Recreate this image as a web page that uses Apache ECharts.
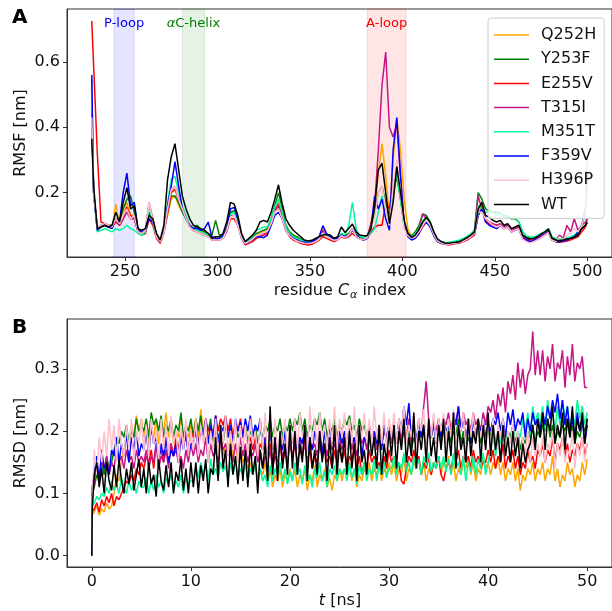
<!DOCTYPE html>
<html><head><meta charset="utf-8">
<script src="https://cdn.jsdelivr.net/npm/echarts@6/dist/echarts.min.js"></script>
<style>html,body{margin:0;padding:0;background:#fff}#c{width:612px;height:611px}</style>
</head><body><div id="c"></div>
<script>
const seriesNames = ['Q252H','Y253F','E255V','T315I','M351T','F359V','H396P','WT'];
const seriesColors = ['#FFA500','#008000','#FF0000','#C71585','#00FA9A','#0000FF','#FFC0CB','#000000'];

const residues = [232,233,235,237,239,241,243,245,247,249,
251,253,255,257,259,261,263,265,267,269,
271,273,275,277,279,281,283,285,287,289,
291,293,295,297,299,301,303,305,307,309,
311,313,315,317,319,321,323,325,327,329,
331,333,335,337,339,341,343,345,347,349,
351,353,355,357,359,361,363,365,367,369,
371,373,375,377,379,381,383,385,387,389,
391,393,395,397,399,401,403,405,407,409,
411,413,415,417,419,421,423,425,427,429,
431,433,435,437,439,441,443,445,447,449,
451,453,455,457,459,461,463,465,467,469,
471,473,475,477,479,481,483,485,487,489,
491,493,495,497,499,500];

const rmsfQ252H = [0.46,0.2,0.085,0.095,0.10,0.095,0.09,0.165,0.10,0.13,
0.17,0.13,0.13,0.085,0.075,0.08,0.135,0.11,0.07,0.05,
0.08,0.13,0.18,0.19,0.16,0.14,0.12,0.10,0.085,0.08,
0.08,0.075,0.07,0.06,0.06,0.06,0.065,0.09,0.14,0.14,
0.11,0.065,0.045,0.05,0.06,0.07,0.075,0.08,0.085,0.11,
0.15,0.17,0.13,0.09,0.075,0.065,0.06,0.055,0.05,0.048,
0.05,0.055,0.065,0.09,0.07,0.065,0.058,0.06,0.07,0.065,
0.07,0.09,0.07,0.062,0.06,0.065,0.11,0.14,0.26,0.35,
0.25,0.13,0.3,0.43,0.33,0.18,0.09,0.065,0.068,0.085,
0.1,0.12,0.105,0.075,0.055,0.048,0.044,0.043,0.045,0.046,
0.048,0.052,0.058,0.066,0.075,0.14,0.16,0.12,0.11,0.1,
0.1,0.105,0.095,0.1,0.085,0.09,0.095,0.065,0.058,0.054,
0.056,0.06,0.068,0.075,0.08,0.055,0.05,0.05,0.052,0.055,
0.06,0.065,0.075,0.09,0.1,0.12];
const rmsfY253F = [0.42,0.2,0.09,0.1,0.105,0.1,0.1,0.12,0.11,0.15,
0.18,0.19,0.14,0.085,0.08,0.085,0.14,0.11,0.07,0.055,
0.08,0.14,0.19,0.19,0.17,0.14,0.12,0.10,0.09,0.10,
0.085,0.08,0.075,0.07,0.115,0.07,0.07,0.095,0.14,0.145,
0.12,0.065,0.05,0.055,0.065,0.075,0.08,0.085,0.09,0.12,
0.16,0.20,0.15,0.10,0.08,0.07,0.065,0.058,0.052,0.05,
0.052,0.056,0.062,0.075,0.07,0.068,0.06,0.062,0.072,0.068,
0.075,0.09,0.072,0.065,0.062,0.065,0.1,0.14,0.2,0.22,
0.17,0.12,0.2,0.25,0.18,0.1,0.075,0.068,0.08,0.1,
0.135,0.13,0.11,0.08,0.058,0.05,0.047,0.046,0.048,0.05,
0.052,0.058,0.065,0.072,0.085,0.2,0.18,0.15,0.145,0.14,
0.14,0.135,0.13,0.125,0.12,0.12,0.11,0.08,0.066,0.062,
0.062,0.065,0.072,0.078,0.09,0.062,0.058,0.055,0.058,0.06,
0.062,0.066,0.075,0.09,0.1,0.12];
const rmsfE255V = [0.725,0.59,0.32,0.11,0.105,0.1,0.095,0.11,0.10,0.12,
0.155,0.13,0.12,0.08,0.07,0.075,0.12,0.10,0.06,0.045,
0.075,0.14,0.2,0.21,0.18,0.15,0.12,0.095,0.085,0.08,
0.075,0.07,0.065,0.055,0.055,0.055,0.06,0.08,0.12,0.12,
0.10,0.06,0.04,0.045,0.05,0.06,0.065,0.07,0.075,0.1,
0.14,0.16,0.12,0.085,0.065,0.055,0.05,0.045,0.042,0.04,
0.042,0.048,0.055,0.065,0.06,0.055,0.05,0.055,0.065,0.06,
0.065,0.075,0.065,0.058,0.055,0.06,0.08,0.095,0.10,0.10,
0.17,0.15,0.22,0.27,0.2,0.1,0.07,0.06,0.062,0.075,
0.095,0.11,0.1,0.07,0.05,0.044,0.042,0.04,0.042,0.044,
0.046,0.05,0.055,0.062,0.07,0.13,0.15,0.115,0.105,0.1,
0.095,0.1,0.09,0.095,0.08,0.085,0.09,0.06,0.055,0.05,
0.052,0.056,0.062,0.07,0.078,0.055,0.05,0.048,0.05,0.052,
0.055,0.06,0.065,0.08,0.095,0.11];
const rmsfT315I = [0.44,0.2,0.09,0.1,0.1,0.095,0.095,0.12,0.10,0.12,
0.14,0.12,0.12,0.08,0.075,0.085,0.17,0.12,0.07,0.05,
0.08,0.15,0.21,0.22,0.18,0.15,0.12,0.10,0.085,0.08,
0.075,0.07,0.065,0.055,0.055,0.055,0.062,0.085,0.13,0.13,
0.105,0.062,0.043,0.048,0.055,0.065,0.07,0.075,0.08,0.105,
0.145,0.165,0.125,0.088,0.07,0.06,0.055,0.05,0.047,0.045,
0.047,0.052,0.06,0.085,0.068,0.06,0.055,0.058,0.068,0.062,
0.068,0.09,0.068,0.06,0.058,0.065,0.1,0.16,0.33,0.53,
0.63,0.4,0.37,0.41,0.25,0.1,0.075,0.065,0.07,0.09,
0.135,0.12,0.1,0.075,0.055,0.047,0.044,0.043,0.045,0.047,
0.05,0.054,0.06,0.068,0.08,0.19,0.15,0.12,0.11,0.105,
0.1,0.105,0.095,0.1,0.088,0.09,0.095,0.065,0.058,0.055,
0.058,0.062,0.07,0.075,0.085,0.06,0.055,0.07,0.06,0.1,
0.08,0.12,0.085,0.1,0.11,0.12];
const rmsfM351T = [0.545,0.2,0.08,0.085,0.09,0.085,0.08,0.09,0.085,0.09,
0.1,0.09,0.085,0.075,0.07,0.08,0.16,0.11,0.065,0.05,
0.08,0.17,0.24,0.25,0.2,0.16,0.13,0.10,0.09,0.085,
0.08,0.075,0.07,0.06,0.06,0.058,0.065,0.09,0.135,0.14,
0.11,0.065,0.048,0.055,0.065,0.085,0.09,0.095,0.095,0.12,
0.155,0.18,0.14,0.095,0.075,0.065,0.06,0.055,0.05,0.048,
0.05,0.055,0.062,0.075,0.07,0.065,0.06,0.062,0.075,0.07,
0.1,0.17,0.09,0.065,0.062,0.065,0.075,0.09,0.14,0.19,
0.15,0.11,0.2,0.26,0.18,0.09,0.07,0.065,0.075,0.09,
0.115,0.12,0.105,0.078,0.058,0.05,0.047,0.048,0.05,0.052,
0.055,0.06,0.066,0.074,0.085,0.16,0.15,0.14,0.145,0.14,
0.13,0.14,0.125,0.13,0.12,0.125,0.11,0.08,0.068,0.064,
0.064,0.068,0.075,0.08,0.09,0.065,0.06,0.058,0.06,0.062,
0.065,0.07,0.08,0.1,0.13,0.3];
const rmsfF359V = [0.56,0.2,0.085,0.095,0.1,0.095,0.09,0.12,0.11,0.2,
0.26,0.16,0.17,0.09,0.078,0.085,0.12,0.11,0.07,0.05,
0.08,0.16,0.22,0.295,0.22,0.15,0.12,0.10,0.09,0.09,
0.085,0.09,0.11,0.065,0.06,0.06,0.068,0.09,0.15,0.155,
0.12,0.06,0.045,0.05,0.058,0.065,0.065,0.062,0.07,0.1,
0.13,0.14,0.12,0.085,0.07,0.06,0.055,0.05,0.048,0.046,
0.05,0.055,0.065,0.099,0.075,0.065,0.058,0.06,0.07,0.065,
0.07,0.085,0.07,0.06,0.055,0.06,0.09,0.19,0.15,0.18,
0.12,0.085,0.33,0.43,0.25,0.1,0.065,0.055,0.06,0.075,
0.1,0.11,0.095,0.068,0.05,0.045,0.043,0.042,0.044,0.046,
0.048,0.052,0.058,0.065,0.075,0.13,0.15,0.11,0.1,0.095,
0.09,0.1,0.09,0.095,0.08,0.085,0.09,0.06,0.055,0.05,
0.054,0.058,0.065,0.072,0.08,0.055,0.05,0.05,0.052,0.055,
0.06,0.065,0.08,0.1,0.15,0.26];
const rmsfH396P = [0.43,0.2,0.09,0.1,0.105,0.1,0.095,0.12,0.105,0.13,
0.15,0.12,0.13,0.08,0.075,0.085,0.17,0.115,0.065,0.05,
0.075,0.15,0.21,0.22,0.18,0.15,0.12,0.095,0.085,0.08,
0.075,0.07,0.065,0.055,0.055,0.055,0.06,0.085,0.125,0.13,
0.1,0.06,0.045,0.05,0.058,0.068,0.072,0.078,0.082,0.105,
0.14,0.15,0.12,0.085,0.068,0.058,0.052,0.048,0.045,0.044,
0.046,0.05,0.058,0.075,0.065,0.06,0.054,0.056,0.068,0.062,
0.07,0.09,0.066,0.058,0.056,0.062,0.09,0.12,0.2,0.22,
0.15,0.1,0.22,0.3,0.2,0.09,0.068,0.06,0.065,0.08,
0.1,0.115,0.1,0.072,0.052,0.046,0.043,0.042,0.044,0.046,
0.048,0.052,0.058,0.065,0.075,0.14,0.14,0.12,0.11,0.1,
0.095,0.1,0.09,0.095,0.08,0.085,0.09,0.058,0.05,0.046,
0.05,0.055,0.062,0.07,0.078,0.055,0.05,0.065,0.055,0.07,
0.075,0.09,0.08,0.1,0.14,0.38];
const rmsfWT = [0.365,0.22,0.09,0.095,0.10,0.095,0.10,0.14,0.11,0.17,
0.215,0.15,0.16,0.09,0.085,0.09,0.13,0.12,0.075,0.055,
0.10,0.24,0.31,0.35,0.27,0.19,0.15,0.12,0.10,0.095,
0.09,0.085,0.075,0.06,0.065,0.065,0.075,0.11,0.17,0.165,
0.13,0.075,0.05,0.06,0.07,0.085,0.11,0.115,0.11,0.14,
0.18,0.224,0.166,0.12,0.10,0.085,0.075,0.065,0.055,0.052,
0.054,0.06,0.065,0.07,0.072,0.07,0.06,0.065,0.095,0.078,
0.09,0.104,0.08,0.07,0.068,0.068,0.09,0.16,0.27,0.29,
0.2,0.105,0.17,0.28,0.2,0.115,0.075,0.063,0.07,0.088,
0.11,0.125,0.11,0.08,0.058,0.05,0.046,0.045,0.047,0.048,
0.05,0.056,0.062,0.07,0.08,0.15,0.17,0.13,0.125,0.115,
0.11,0.115,0.10,0.105,0.09,0.095,0.10,0.07,0.062,0.058,
0.06,0.065,0.073,0.08,0.088,0.06,0.055,0.052,0.055,0.058,
0.06,0.063,0.07,0.09,0.10,0.108];

const timeNs = [0,0.05,
0.25,0.5,0.75,1,1.25,1.5,1.75,2,2.25,2.5,2.75,3,3.25,3.5,3.75,4,4.25,4.5,4.75,5,
5.25,5.5,5.75,6,6.25,6.5,6.75,7,7.25,7.5,7.75,8,8.25,8.5,8.75,9,9.25,9.5,9.75,10,
10.25,10.5,10.75,11,11.25,11.5,11.75,12,12.25,12.5,12.75,13,13.25,13.5,13.75,14,14.25,14.5,14.75,15,
15.25,15.5,15.75,16,16.25,16.5,16.75,17,17.25,17.5,17.75,18,18.25,18.5,18.75,19,19.25,19.5,19.75,20,
20.25,20.5,20.75,21,21.25,21.5,21.75,22,22.25,22.5,22.75,23,23.25,23.5,23.75,24,24.25,24.5,24.75,25,
25.25,25.5,25.75,26,26.25,26.5,26.75,27,27.25,27.5,27.75,28,28.25,28.5,28.75,29,29.25,29.5,29.75,30,
30.25,30.5,30.75,31,31.25,31.5,31.75,32,32.25,32.5,32.75,33,33.25,33.5,33.75,34,34.25,34.5,34.75,35,
35.25,35.5,35.75,36,36.25,36.5,36.75,37,37.25,37.5,37.75,38,38.25,38.5,38.75,39,39.25,39.5,39.75,40,
40.25,40.5,40.75,41,41.25,41.5,41.75,42,42.25,42.5,42.75,43,43.25,43.5,43.75,44,44.25,44.5,44.75,45,
45.25,45.5,45.75,46,46.25,46.5,46.75,47,47.25,47.5,47.75,48,48.25,48.5,48.75,49,49.25,49.5,49.75,50];

const rmsdQ252H = [0,0.065,
0.07,0.08,0.065,0.075,0.07,0.085,0.075,0.08,0.10,0.13,0.12,0.15,0.17,0.19,0.18,0.21,0.19,0.225,0.20,0.22,
0.19,0.21,0.18,0.20,0.19,0.22,0.18,0.21,0.20,0.23,0.19,0.21,0.18,0.20,0.19,0.22,0.18,0.20,0.19,0.21,
0.20,0.22,0.19,0.235,0.20,0.22,0.19,0.21,0.18,0.20,0.17,0.19,0.16,0.18,0.17,0.19,0.16,0.18,0.15,0.17,
0.15,0.16,0.14,0.15,0.13,0.15,0.12,0.14,0.13,0.15,0.12,0.14,0.11,0.13,0.12,0.14,0.11,0.13,0.12,0.14,
0.12,0.14,0.11,0.13,0.12,0.14,0.105,0.13,0.12,0.145,0.11,0.13,0.12,0.14,0.11,0.125,0.105,0.13,0.12,0.14,
0.12,0.14,0.13,0.15,0.12,0.14,0.11,0.13,0.12,0.14,0.13,0.15,0.12,0.14,0.13,0.15,0.12,0.14,0.13,0.15,
0.13,0.15,0.12,0.14,0.13,0.16,0.12,0.14,0.13,0.15,0.14,0.16,0.13,0.15,0.12,0.14,0.13,0.15,0.14,0.16,
0.13,0.15,0.14,0.16,0.13,0.15,0.12,0.14,0.13,0.15,0.14,0.16,0.13,0.15,0.12,0.14,0.13,0.16,0.14,0.15,
0.13,0.15,0.14,0.16,0.13,0.15,0.12,0.14,0.13,0.15,0.12,0.14,0.105,0.13,0.12,0.14,0.13,0.15,0.12,0.14,
0.13,0.15,0.12,0.14,0.13,0.16,0.12,0.14,0.11,0.13,0.12,0.15,0.13,0.14,0.11,0.13,0.12,0.15,0.13,0.155];
const rmsdY253F = [0,0.10,
0.11,0.13,0.12,0.15,0.13,0.16,0.14,0.15,0.17,0.19,0.18,0.20,0.19,0.21,0.18,0.20,0.19,0.22,0.20,0.21,
0.20,0.22,0.19,0.23,0.21,0.22,0.20,0.225,0.19,0.21,0.20,0.22,0.19,0.21,0.20,0.23,0.19,0.21,0.20,0.22,
0.19,0.22,0.20,0.225,0.19,0.21,0.20,0.22,0.18,0.21,0.19,0.20,0.18,0.21,0.19,0.20,0.18,0.21,0.19,0.20,
0.19,0.21,0.18,0.20,0.19,0.21,0.18,0.20,0.19,0.21,0.20,0.22,0.19,0.21,0.20,0.22,0.19,0.21,0.20,0.22,
0.20,0.22,0.21,0.23,0.20,0.22,0.19,0.21,0.20,0.22,0.21,0.23,0.20,0.22,0.19,0.21,0.20,0.22,0.19,0.21,
0.20,0.22,0.21,0.225,0.20,0.21,0.19,0.22,0.20,0.21,0.19,0.20,0.18,0.20,0.19,0.21,0.18,0.20,0.19,0.21,
0.19,0.21,0.18,0.20,0.19,0.21,0.18,0.20,0.17,0.19,0.18,0.20,0.19,0.21,0.18,0.20,0.19,0.21,0.18,0.20,
0.18,0.20,0.19,0.21,0.18,0.20,0.19,0.22,0.18,0.20,0.17,0.19,0.18,0.20,0.19,0.21,0.18,0.20,0.19,0.21,
0.19,0.21,0.18,0.20,0.19,0.21,0.18,0.20,0.19,0.21,0.18,0.20,0.17,0.19,0.18,0.20,0.19,0.21,0.18,0.20,
0.19,0.21,0.20,0.22,0.19,0.21,0.18,0.20,0.19,0.21,0.20,0.22,0.19,0.21,0.18,0.20,0.19,0.21,0.20,0.22];
const rmsdE255V = [0,0.07,
0.075,0.085,0.07,0.09,0.08,0.095,0.085,0.10,0.08,0.095,0.09,0.10,0.11,0.12,0.115,0.13,0.12,0.14,0.13,0.15,
0.14,0.16,0.15,0.17,0.14,0.18,0.16,0.17,0.15,0.19,0.17,0.18,0.16,0.19,0.17,0.20,0.18,0.19,0.17,0.20,
0.19,0.21,0.18,0.20,0.19,0.22,0.20,0.21,0.19,0.225,0.20,0.22,0.21,0.225,0.20,0.22,0.19,0.21,0.20,0.22,
0.19,0.20,0.18,0.19,0.17,0.19,0.16,0.18,0.17,0.19,0.16,0.18,0.15,0.17,0.16,0.18,0.15,0.17,0.16,0.18,
0.16,0.18,0.15,0.17,0.16,0.19,0.15,0.17,0.14,0.16,0.15,0.18,0.16,0.17,0.15,0.16,0.14,0.17,0.15,0.18,
0.15,0.17,0.14,0.16,0.15,0.18,0.14,0.16,0.13,0.15,0.14,0.17,0.15,0.16,0.14,0.15,0.13,0.16,0.14,0.17,
0.15,0.16,0.14,0.15,0.12,0.115,0.14,0.16,0.15,0.17,0.14,0.16,0.13,0.15,0.14,0.16,0.13,0.15,0.14,0.16,
0.13,0.12,0.14,0.15,0.14,0.16,0.15,0.17,0.14,0.16,0.15,0.16,0.14,0.17,0.15,0.16,0.14,0.15,0.15,0.17,
0.15,0.17,0.14,0.16,0.15,0.18,0.14,0.16,0.15,0.17,0.14,0.16,0.13,0.15,0.14,0.17,0.15,0.16,0.14,0.17,
0.16,0.18,0.15,0.17,0.16,0.19,0.15,0.18,0.17,0.19,0.16,0.18,0.15,0.17,0.16,0.18,0.17,0.19,0.16,0.18];
const rmsdT315I = [0,0.09,
0.12,0.14,0.13,0.15,0.14,0.16,0.13,0.15,0.14,0.17,0.15,0.16,0.14,0.17,0.15,0.16,0.14,0.17,0.15,0.16,
0.15,0.17,0.14,0.16,0.15,0.18,0.14,0.16,0.15,0.17,0.14,0.18,0.16,0.17,0.15,0.16,0.14,0.17,0.15,0.18,
0.16,0.18,0.15,0.17,0.16,0.19,0.15,0.18,0.16,0.17,0.15,0.19,0.17,0.18,0.16,0.17,0.15,0.18,0.16,0.19,
0.16,0.18,0.15,0.17,0.16,0.18,0.15,0.17,0.14,0.16,0.15,0.17,0.14,0.16,0.15,0.18,0.16,0.17,0.15,0.18,
0.16,0.18,0.17,0.19,0.16,0.18,0.15,0.19,0.17,0.18,0.16,0.20,0.17,0.18,0.16,0.19,0.17,0.18,0.16,0.19,
0.17,0.19,0.18,0.20,0.17,0.19,0.16,0.20,0.18,0.19,0.17,0.21,0.18,0.20,0.17,0.19,0.18,0.20,0.19,0.21,
0.18,0.20,0.19,0.21,0.18,0.20,0.19,0.22,0.18,0.21,0.19,0.20,0.20,0.24,0.28,0.22,0.19,0.21,0.20,0.22,
0.20,0.22,0.21,0.23,0.20,0.22,0.21,0.24,0.20,0.23,0.21,0.22,0.20,0.23,0.21,0.22,0.20,0.23,0.21,0.24,
0.23,0.25,0.22,0.26,0.24,0.27,0.23,0.28,0.26,0.29,0.25,0.31,0.27,0.30,0.26,0.29,0.30,0.36,0.29,0.33,
0.29,0.33,0.28,0.32,0.30,0.34,0.28,0.31,0.30,0.33,0.27,0.32,0.29,0.34,0.28,0.31,0.30,0.32,0.27,0.27];
const rmsdM351T = [0,0.08,
0.085,0.095,0.09,0.10,0.095,0.11,0.10,0.12,0.105,0.115,0.10,0.125,0.11,0.10,0.12,0.105,0.115,0.10,0.12,0.11,
0.11,0.125,0.10,0.12,0.105,0.13,0.11,0.12,0.10,0.125,0.115,0.13,0.105,0.12,0.11,0.13,0.10,0.125,0.115,0.12,
0.12,0.14,0.125,0.15,0.13,0.145,0.12,0.155,0.13,0.14,0.125,0.15,0.135,0.145,0.12,0.15,0.13,0.155,0.125,0.14,
0.13,0.15,0.12,0.14,0.13,0.15,0.115,0.14,0.12,0.13,0.11,0.145,0.12,0.14,0.13,0.15,0.12,0.14,0.115,0.135,
0.12,0.15,0.13,0.14,0.115,0.145,0.12,0.13,0.11,0.14,0.125,0.15,0.12,0.135,0.11,0.14,0.13,0.145,0.12,0.14,
0.13,0.14,0.12,0.15,0.125,0.14,0.115,0.145,0.13,0.15,0.12,0.14,0.13,0.155,0.12,0.145,0.13,0.15,0.125,0.14,
0.14,0.16,0.13,0.15,0.14,0.165,0.135,0.15,0.13,0.16,0.14,0.155,0.13,0.16,0.145,0.165,0.135,0.15,0.14,0.16,
0.14,0.16,0.135,0.155,0.13,0.165,0.14,0.15,0.13,0.16,0.12,0.15,0.135,0.16,0.13,0.155,0.14,0.165,0.13,0.15,
0.17,0.20,0.16,0.19,0.18,0.21,0.17,0.20,0.18,0.21,0.17,0.20,0.19,0.22,0.20,0.23,0.19,0.24,0.21,0.23,
0.21,0.24,0.20,0.25,0.22,0.23,0.20,0.24,0.21,0.25,0.22,0.24,0.20,0.23,0.21,0.25,0.22,0.24,0.21,0.23];
const rmsdF359V = [0,0.11,
0.13,0.16,0.12,0.17,0.14,0.15,0.13,0.17,0.16,0.19,0.15,0.18,0.16,0.20,0.15,0.19,0.17,0.20,0.16,0.18,
0.17,0.20,0.16,0.21,0.18,0.19,0.15,0.18,0.16,0.19,0.15,0.17,0.16,0.18,0.15,0.19,0.17,0.20,0.16,0.18,
0.18,0.20,0.17,0.21,0.19,0.22,0.18,0.21,0.19,0.225,0.18,0.21,0.20,0.22,0.19,0.21,0.18,0.22,0.20,0.215,
0.19,0.22,0.20,0.225,0.19,0.21,0.20,0.22,0.17,0.19,0.16,0.20,0.17,0.19,0.16,0.18,0.17,0.20,0.16,0.19,
0.18,0.20,0.17,0.19,0.18,0.21,0.16,0.19,0.17,0.20,0.18,0.19,0.16,0.20,0.17,0.21,0.18,0.19,0.17,0.20,
0.18,0.20,0.17,0.21,0.18,0.19,0.17,0.20,0.16,0.19,0.18,0.21,0.17,0.20,0.18,0.19,0.17,0.21,0.18,0.20,
0.19,0.21,0.18,0.22,0.20,0.24,0.21,0.245,0.19,0.21,0.18,0.22,0.19,0.21,0.18,0.20,0.19,0.22,0.18,0.21,
0.19,0.22,0.20,0.21,0.19,0.23,0.21,0.24,0.20,0.22,0.19,0.21,0.18,0.22,0.19,0.21,0.20,0.22,0.19,0.21,
0.20,0.22,0.21,0.23,0.20,0.22,0.19,0.23,0.21,0.235,0.20,0.22,0.21,0.23,0.19,0.22,0.20,0.23,0.21,0.22,
0.20,0.23,0.21,0.24,0.22,0.25,0.23,0.26,0.22,0.25,0.21,0.24,0.20,0.22,0.19,0.23,0.20,0.22,0.18,0.21];
const rmsdH396P = [0,0.09,
0.17,0.13,0.19,0.15,0.20,0.16,0.22,0.17,0.21,0.15,0.22,0.18,0.16,0.21,0.17,0.22,0.15,0.20,0.18,0.22,
0.17,0.21,0.16,0.22,0.18,0.20,0.15,0.22,0.17,0.21,0.16,0.225,0.18,0.20,0.15,0.21,0.17,0.22,0.16,0.20,
0.17,0.22,0.16,0.21,0.18,0.22,0.15,0.20,0.17,0.22,0.16,0.21,0.18,0.225,0.16,0.20,0.17,0.22,0.15,0.21,
0.17,0.21,0.16,0.22,0.18,0.20,0.16,0.22,0.17,0.23,0.15,0.21,0.17,0.22,0.16,0.20,0.18,0.22,0.16,0.21,
0.18,0.22,0.17,0.23,0.19,0.21,0.16,0.24,0.18,0.22,0.17,0.23,0.19,0.21,0.17,0.22,0.18,0.24,0.17,0.22,
0.19,0.23,0.17,0.22,0.18,0.24,0.17,0.21,0.19,0.23,0.18,0.22,0.17,0.24,0.19,0.21,0.18,0.23,0.17,0.22,
0.19,0.23,0.18,0.22,0.20,0.24,0.18,0.21,0.19,0.23,0.17,0.22,0.20,0.235,0.18,0.21,0.19,0.23,0.18,0.22,
0.20,0.23,0.18,0.22,0.19,0.235,0.18,0.21,0.20,0.23,0.17,0.22,0.19,0.23,0.18,0.21,0.19,0.22,0.17,0.21,
0.18,0.22,0.17,0.21,0.19,0.22,0.16,0.20,0.18,0.21,0.17,0.20,0.15,0.19,0.16,0.20,0.15,0.19,0.16,0.18,
0.16,0.19,0.15,0.18,0.17,0.20,0.14,0.18,0.16,0.19,0.15,0.17,0.16,0.20,0.14,0.18,0.16,0.19,0.15,0.18];
const rmsdWT = [0,0.075,
0.13,0.15,0.11,0.14,0.10,0.15,0.12,0.105,0.145,0.11,0.155,0.12,0.10,0.14,0.115,0.15,0.105,0.13,0.155,0.11,
0.14,0.10,0.15,0.115,0.13,0.095,0.155,0.12,0.105,0.145,0.11,0.15,0.10,0.135,0.12,0.155,0.105,0.14,0.10,0.15,
0.11,0.15,0.10,0.145,0.12,0.155,0.10,0.14,0.13,0.19,0.12,0.21,0.14,0.17,0.11,0.18,0.13,0.16,0.115,0.175,
0.12,0.17,0.11,0.18,0.13,0.16,0.10,0.17,0.14,0.18,0.12,0.24,0.13,0.19,0.12,0.20,0.14,0.18,0.13,0.21,
0.14,0.20,0.13,0.18,0.15,0.21,0.12,0.19,0.14,0.17,0.13,0.20,0.15,0.18,0.12,0.19,0.14,0.21,0.13,0.18,
0.15,0.19,0.13,0.20,0.14,0.18,0.12,0.21,0.15,0.17,0.13,0.20,0.16,0.19,0.14,0.21,0.13,0.18,0.15,0.20,
0.16,0.21,0.14,0.20,0.17,0.22,0.15,0.19,0.16,0.23,0.14,0.20,0.17,0.21,0.15,0.22,0.16,0.19,0.15,0.21,
0.17,0.22,0.15,0.20,0.16,0.23,0.14,0.21,0.17,0.19,0.15,0.22,0.16,0.20,0.18,0.22,0.15,0.21,0.17,0.23,
0.16,0.21,0.17,0.20,0.15,0.21,0.16,0.19,0.15,0.20,0.16,0.19,0.14,0.18,0.15,0.17,0.18,0.21,0.17,0.22,
0.19,0.23,0.17,0.22,0.20,0.24,0.18,0.21,0.19,0.23,0.17,0.22,0.19,0.24,0.18,0.22,0.20,0.23,0.18,0.22];

const rmsfTicksX = [250,300,350,400,450,500];
const rmsfTicksY = [0.2,0.4,0.6];
const rmsdTicksX = [0,10,20,30,40,50];
const rmsdTicksY = [0.0,0.1,0.2,0.3];
const regionNames = ['P-loop','αC-helix','A-loop'];
const regionStart = [244,281,381];
const regionEnd = [255,293,402];
const regionColors = ['0,0,255','0,128,0','255,0,0'];

const rmsfAll = [rmsfQ252H,rmsfY253F,rmsfE255V,rmsfT315I,rmsfM351T,rmsfF359V,rmsfH396P,rmsfWT];
const rmsdAll = [rmsdQ252H,rmsdY253F,rmsdE255V,rmsdT315I,rmsdM351T,rmsdF359V,rmsdH396P,rmsdWT];

const FONT = 'DejaVu Sans';
const axisCol = '#333';
function mkX(grid,min,max,ticks){
  return {type:'value',gridIndex:grid,min:min,max:max,
    axisLine:{show:true,onZero:false,lineStyle:{color:axisCol,width:1}},
    axisTick:{show:true,length:4,customValues:ticks,lineStyle:{color:axisCol}},
    axisLabel:{customValues:ticks,fontSize:16,fontFamily:FONT,color:'#111',margin:7},
    splitLine:{show:false}};
}
function mkY(grid,min,max,ticks){
  return {type:'value',gridIndex:grid,min:min,max:max,
    axisLine:{show:true,onZero:false,lineStyle:{color:axisCol,width:1}},
    axisTick:{show:true,length:4,customValues:ticks,lineStyle:{color:axisCol}},
    axisLabel:{customValues:ticks,fontSize:16,fontFamily:FONT,color:'#111',margin:7,
      formatter:v=>Number(v).toFixed(1)},
    splitLine:{show:false}};
}

const series = [];
series.push({type:'line',xAxisIndex:0,yAxisIndex:0,data:[],z:1,silent:true,
  markArea:{silent:true,data:regionNames.map((n,i)=>[
    {xAxis:regionStart[i],name:n,
     itemStyle:{color:'rgba('+regionColors[i]+',0.1)',borderColor:'rgba('+regionColors[i]+',0.12)',borderWidth:1},
     label:{show:true,position:'insideTop',distance:9,fontSize:13,fontFamily:FONT,
       color:'rgb('+regionColors[i]+')',
       formatter: n==='αC-helix' ? '{a|α}{b|C-helix}' : n,
       rich:{a:{fontStyle:'italic',fontSize:13,fontFamily:FONT,color:'rgb('+regionColors[i]+')'},
             b:{fontSize:13,fontFamily:FONT,color:'rgb('+regionColors[i]+')'}}}},
    {xAxis:regionEnd[i]}])}});
seriesNames.forEach((n,i)=>{
  series.push({name:n,type:'line',xAxisIndex:0,yAxisIndex:0,z:2,
    data:residues.map((r,k)=>[r,rmsfAll[i][k]]),
    symbol:'none',showSymbol:false,silent:true,animation:false,
    lineStyle:{color:seriesColors[i],width:1.5},itemStyle:{color:seriesColors[i]},
    emphasis:{disabled:true}});
});
seriesNames.forEach((n,i)=>{
  series.push({name:n,type:'line',xAxisIndex:1,yAxisIndex:1,z:2,
    data:timeNs.map((t,k)=>[t,rmsdAll[i][k]]),
    symbol:'none',showSymbol:false,silent:true,animation:false,
    lineStyle:{color:seriesColors[i],width:1.5},itemStyle:{color:seriesColors[i]},
    emphasis:{disabled:true}});
});

const chart = echarts.init(document.getElementById('c'),null,{renderer:'canvas'});
chart.setOption({
  animation:false,
  backgroundColor:'#fff',
  textStyle:{fontFamily:FONT},
  grid:[{left:67,top:9,width:547,height:248,show:true,borderColor:axisCol,borderWidth:1,backgroundColor:'transparent'},
        {left:67,top:319,width:547,height:248,show:true,borderColor:axisCol,borderWidth:1,backgroundColor:'transparent'}],
  xAxis:[mkX(0,218.6,513.4,rmsfTicksX),mkX(1,-2.5,52.5,rmsdTicksX)],
  yAxis:[mkY(0,0.003,0.762,rmsfTicksY),mkY(1,-0.0181,0.3801,rmsdTicksY)],
  legend:{data:seriesNames,orient:'vertical',left:488,top:18,icon:'rect',
    padding:[8,8,5,6],itemGap:6.2,itemWidth:35,itemHeight:1.5,selectedMode:false,
    backgroundColor:'rgba(255,255,255,0.8)',borderColor:'#ccc',borderWidth:1,borderRadius:3,
    textStyle:{fontSize:16,fontFamily:FONT,color:'#111',lineHeight:18,padding:[0,0,0,7]}},
  graphic:[
    {type:'text',x:12,y:18,style:{text:'A',font:'bold 20px "DejaVu Sans"',fill:'#000',textAlign:'left',textVerticalAlign:'middle',align:'left',verticalAlign:'middle'}},
    {type:'text',x:12,y:328,style:{text:'B',font:'bold 20px "DejaVu Sans"',fill:'#000',textAlign:'left',textVerticalAlign:'middle',align:'left',verticalAlign:'middle'}},
    {type:'text',x:21,y:133,rotation:Math.PI/2,style:{text:'RMSF [nm]',font:'16px "DejaVu Sans"',fill:'#111',textAlign:'center',textVerticalAlign:'middle',align:'center',verticalAlign:'middle'}},
    {type:'text',x:21,y:443,rotation:Math.PI/2,style:{text:'RMSD [nm]',font:'16px "DejaVu Sans"',fill:'#111',textAlign:'center',textVerticalAlign:'middle',align:'center',verticalAlign:'middle'}},
    {type:'text',x:340,y:291,style:{text:'{n|residue }{i|C}{s|α}{n| index}',fill:'#111',textAlign:'center',textVerticalAlign:'middle',align:'center',verticalAlign:'middle',
      rich:{n:{fontSize:16,fontFamily:FONT,fill:'#111',color:'#111'},
            i:{fontSize:16,fontFamily:FONT,fontStyle:'italic',fill:'#111',color:'#111'},
            s:{fontSize:11,fontFamily:FONT,fontStyle:'italic',fill:'#111',color:'#111',padding:[8,0,0,1]}}}},
    {type:'text',x:340,y:601,style:{text:'{i|t}{n| [ns]}',fill:'#111',textAlign:'center',textVerticalAlign:'middle',align:'center',verticalAlign:'middle',
      rich:{n:{fontSize:16,fontFamily:FONT,fill:'#111',color:'#111'},
            i:{fontSize:16,fontFamily:FONT,fontStyle:'italic',fill:'#111',color:'#111'}}}}
  ],
  series:series
});
</script></body></html>
